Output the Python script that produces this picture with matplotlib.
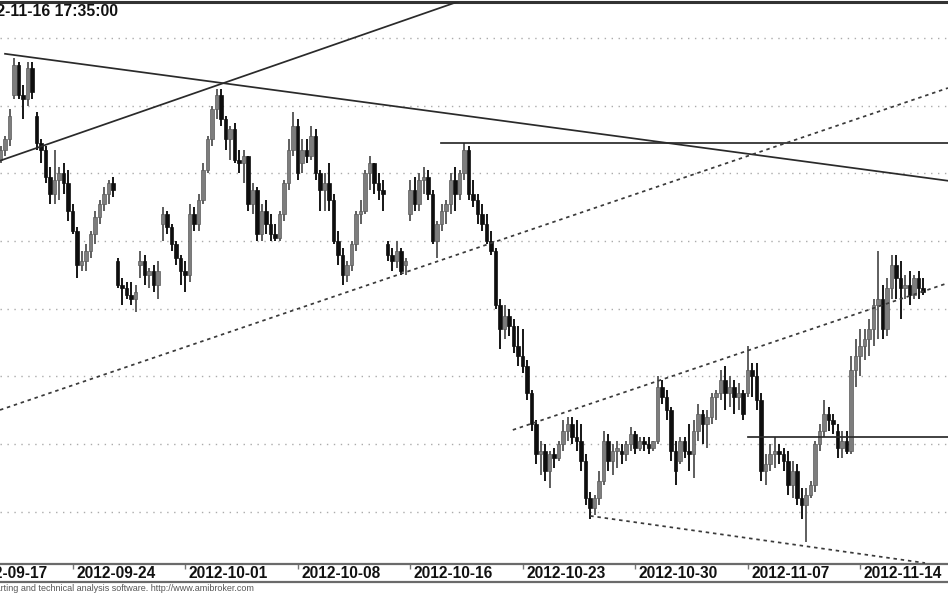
import matplotlib
matplotlib.use("Agg")
import matplotlib.pyplot as plt
from matplotlib.lines import Line2D
import numpy as np

plt.rcParams['font.family'] = ['Liberation Sans', 'DejaVu Sans']

# ---- OHLC data (bar index 0..205) ----
opens = [2444, 2447, 2450, 2463, 2472, 2463, 2462, 2471, 2457, 2449,
         2447, 2439, 2434, 2438, 2440, 2437, 2429, 2423, 2413, 2414,
         2417, 2422, 2427, 2431, 2434, 2437, 2414, 2407, 2406, 2404,
         2403, 2413, 2414, 2410, 2411, 2407, 2425, 2428, 2424, 2419,
         2415, 2411, 2410, 2428, 2425, 2432, 2441, 2450, 2459, 2463,
         2456, 2450, 2453, 2444, 2443, 2445, 2431, 2435, 2422, 2429,
         2425, 2422, 2421, 2428, 2437, 2447, 2454, 2443, 2447, 2445,
         2451, 2440, 2435, 2437, 2432, 2420, 2416, 2410, 2413, 2419,
         2428, 2429, 2440, 2443, 2437, 2435, 2419, 2416, 2414, 2417,
         2413, 2428, 2435, 2431, 2438, 2439, 2434, 2420, 2425, 2429,
         2431, 2438, 2434, 2440, 2447, 2434, 2432, 2428, 2425, 2420,
         2417, 2401, 2394, 2398, 2395, 2389, 2386, 2383, 2375, 2366,
         2357, 2358, 2352, 2357, 2356, 2360, 2364, 2366, 2362, 2361,
         2355, 2344, 2341, 2344, 2349, 2361, 2355, 2358, 2358, 2357,
         2360, 2363, 2359, 2361, 2360, 2359, 2361, 2377, 2374, 2370,
         2358, 2355, 2361, 2358, 2357, 2364, 2369, 2366, 2368, 2374,
         2375, 2379, 2375, 2377, 2374, 2375, 2375, 2382, 2380, 2373,
         2352, 2354, 2357, 2358, 2357, 2355, 2348, 2352, 2344, 2342,
         2345, 2348, 2360, 2364, 2369, 2367, 2364, 2359, 2361, 2358,
         2382, 2386, 2389, 2391, 2394, 2401, 2403, 2394, 2406, 2413,
         2409, 2406, 2407, 2404, 2409, 2406]
highs = [2448, 2451, 2459, 2474, 2473, 2466, 2473, 2473, 2458, 2450,
         2448, 2442, 2447, 2442, 2443, 2441, 2431, 2424, 2417, 2419,
         2423, 2429, 2432, 2436, 2438, 2439, 2415, 2409, 2408, 2408,
         2407, 2417, 2416, 2412, 2413, 2414, 2430, 2429, 2425, 2420,
         2416, 2414, 2431, 2430, 2434, 2443, 2451, 2460, 2465, 2465,
         2457, 2454, 2455, 2447, 2447, 2445, 2437, 2436, 2431, 2432,
         2428, 2425, 2429, 2438, 2450, 2458, 2456, 2450, 2450, 2454,
         2453, 2441, 2440, 2443, 2434, 2423, 2418, 2414, 2420, 2429,
         2432, 2441, 2445, 2443, 2440, 2438, 2420, 2418, 2420, 2418,
         2415, 2438, 2439, 2440, 2442, 2441, 2435, 2426, 2431, 2432,
         2440, 2442, 2441, 2449, 2448, 2438, 2434, 2431, 2428, 2423,
         2418, 2403, 2401, 2400, 2397, 2395, 2394, 2385, 2376, 2367,
         2361, 2360, 2358, 2359, 2361, 2367, 2368, 2368, 2367, 2366,
         2357, 2346, 2345, 2352, 2364, 2363, 2360, 2361, 2360, 2361,
         2365, 2364, 2362, 2362, 2362, 2361, 2380, 2379, 2376, 2371,
         2361, 2362, 2362, 2366, 2367, 2372, 2370, 2370, 2375, 2376,
         2382, 2383, 2380, 2379, 2378, 2376, 2389, 2384, 2384, 2375,
         2357, 2360, 2362, 2360, 2359, 2358, 2355, 2354, 2347, 2347,
         2349, 2361, 2366, 2373, 2371, 2369, 2366, 2364, 2364, 2386,
         2391, 2394, 2394, 2397, 2403, 2417, 2407, 2409, 2416, 2416,
         2414, 2410, 2411, 2410, 2411, 2409]
lows = [2443, 2445, 2448, 2462, 2462, 2456, 2460, 2462, 2447, 2443,
        2437, 2431, 2431, 2432, 2434, 2426, 2422, 2409, 2411, 2411,
        2415, 2419, 2425, 2429, 2431, 2433, 2406, 2401, 2403, 2401,
        2399, 2409, 2407, 2406, 2405, 2403, 2420, 2422, 2417, 2413,
        2407, 2405, 2408, 2423, 2423, 2431, 2440, 2448, 2456, 2454,
        2447, 2444, 2443, 2440, 2437, 2429, 2428, 2420, 2420, 2422,
        2420, 2420, 2420, 2426, 2435, 2445, 2438, 2440, 2443, 2444,
        2438, 2429, 2429, 2429, 2419, 2413, 2407, 2408, 2411, 2417,
        2425, 2428, 2435, 2434, 2432, 2429, 2414, 2411, 2412, 2410,
        2410, 2426, 2429, 2429, 2434, 2432, 2419, 2415, 2423, 2425,
        2428, 2429, 2432, 2438, 2432, 2430, 2425, 2423, 2419, 2416,
        2400, 2388, 2391, 2392, 2387, 2383, 2381, 2373, 2364, 2354,
        2351, 2349, 2347, 2353, 2355, 2358, 2361, 2360, 2358, 2352,
        2342, 2338, 2339, 2342, 2348, 2352, 2351, 2353, 2354, 2355,
        2358, 2357, 2358, 2358, 2357, 2358, 2360, 2372, 2367, 2355,
        2348, 2354, 2356, 2352, 2350, 2361, 2360, 2359, 2366, 2367,
        2373, 2370, 2371, 2369, 2370, 2367, 2374, 2374, 2370, 2349,
        2348, 2352, 2353, 2354, 2352, 2345, 2344, 2342, 2338, 2331,
        2344, 2346, 2358, 2362, 2364, 2363, 2356, 2356, 2357, 2357,
        2377, 2380, 2385, 2386, 2389, 2391, 2391, 2392, 2403, 2403,
        2397, 2403, 2401, 2403, 2403, 2404]
closes = [2447, 2450, 2457, 2472, 2463, 2462, 2471, 2464, 2449, 2447,
          2439, 2434, 2438, 2440, 2437, 2429, 2423, 2413, 2414, 2417,
          2422, 2427, 2431, 2434, 2437, 2435, 2407, 2406, 2404, 2403,
          2405, 2414, 2410, 2411, 2407, 2411, 2428, 2424, 2419, 2415,
          2411, 2410, 2428, 2425, 2432, 2441, 2450, 2459, 2463, 2456,
          2450, 2453, 2444, 2443, 2445, 2431, 2435, 2422, 2429, 2425,
          2422, 2421, 2428, 2437, 2447, 2454, 2440, 2447, 2445, 2451,
          2440, 2435, 2437, 2432, 2420, 2416, 2410, 2413, 2419, 2428,
          2429, 2440, 2443, 2437, 2435, 2434, 2416, 2414, 2417, 2411,
          2414, 2435, 2431, 2438, 2439, 2434, 2420, 2425, 2429, 2431,
          2438, 2434, 2440, 2447, 2434, 2432, 2428, 2425, 2420, 2417,
          2401, 2394, 2398, 2395, 2389, 2386, 2383, 2375, 2366, 2357,
          2358, 2352, 2357, 2356, 2360, 2364, 2366, 2362, 2361, 2355,
          2344, 2341, 2344, 2349, 2361, 2355, 2358, 2359, 2357, 2360,
          2363, 2359, 2361, 2360, 2359, 2361, 2377, 2374, 2370, 2358,
          2352, 2361, 2358, 2357, 2364, 2369, 2366, 2368, 2374, 2375,
          2379, 2375, 2377, 2374, 2375, 2369, 2382, 2380, 2373, 2352,
          2354, 2357, 2358, 2357, 2355, 2348, 2352, 2344, 2342, 2345,
          2348, 2360, 2364, 2369, 2367, 2366, 2359, 2361, 2358, 2382,
          2386, 2389, 2391, 2394, 2401, 2403, 2394, 2406, 2413, 2409,
          2406, 2407, 2404, 2409, 2406, 2405]

# date labels at bar indices
tick_bars = [-8, 16, 41, 66, 91, 116, 141, 166, 191]
tick_labels = ['2012-09-17', '2012-09-24', '2012-10-01', '2012-10-08', '2012-10-16',
               '2012-10-23', '2012-10-30', '2012-11-07', '2012-11-14']

# horizontal grid price levels
grid_levels = [2340, 2360, 2380, 2400, 2420, 2440, 2460, 2480]

# trend lines: (bar index pair, price pair)
solid_lines = [
    ([-0.2, 102.7], [2443.7, 2491.2]),
    ([0.96, 210.5], [2475.3, 2437.8]),
    ([97.8, 210.5], [2449.0, 2449.0]),
    ([166.1, 210.5], [2362.2, 2362.2]),
]
dotted_lines = [
    ([-0.16, 210.5], [2370.1, 2465.2]),
    ([113.8, 210.5], [2364.2, 2407.6]),
    ([131.0, 205.4], [2338.8, 2324.9]),
]

title_text = '2012-11-16 17:35:00'
footer_text = 'AmiBroker - charting and technical analysis software. http://www.amibroker.com'

# ---- figure ----
W, H = 948, 593
fig = plt.figure(figsize=(W / 100, H / 100), dpi=100)
fig.patch.set_facecolor('white')
ax_bottom_px, ax_top_px = 564, 2
ax = fig.add_axes([0, (H - ax_bottom_px) / H, 1, (ax_bottom_px - ax_top_px) / H])
ax.set_facecolor('white')

o = np.array(opens, float); h = np.array(highs, float)
l = np.array(lows, float); c = np.array(closes, float)
idx = np.arange(len(o))
up = c >= o

# grid
for g in grid_levels:
    ax.axhline(g, color='#ababab', lw=1.0, linestyle=(0, (1, 4)), zorder=0)

# wicks
lo_all = np.minimum(l, np.minimum(o, c))
hi_all = np.maximum(h, np.maximum(o, c))
ax.vlines(idx[up], lo_all[up], hi_all[up], colors='#5e5e5e', lw=1.4, zorder=2)
ax.vlines(idx[~up], lo_all[~up], hi_all[~up], colors='#151515', lw=1.4, zorder=2)
# bodies
body_lo = np.minimum(o, c)
body_h = np.maximum(np.abs(c - o), 0.6)
ax.bar(idx[up], body_h[up], bottom=body_lo[up], width=0.78, color='#7d7d7d',
       edgecolor='#5a5a5a', linewidth=0.5, zorder=3)
ax.bar(idx[~up], body_h[~up], bottom=body_lo[~up], width=0.78, color='#0e0e0e',
       edgecolor='#0e0e0e', linewidth=0.5, zorder=3)

# trend lines
for xs, ys in solid_lines:
    ax.plot(xs, ys, color='#2a2a2a', lw=1.25, zorder=4)
for xs, ys in dotted_lines:
    ax.plot(xs, ys, color='#3a3a3a', lw=1.25, linestyle=(0, (2, 2.2)), zorder=4)

ax.set_yticks([])
ax.set_xticks(tick_bars)
ax.tick_params(axis='x', direction='out', length=3.5, width=1, color='#777777',
               labelbottom=False)

# limits (pixel 0 -> bar -0.156, pixel 948 -> bar 210.51); set after ticks
ax.set_xlim(-0.156, 210.51)
ax.set_ylim(2324.6, 2490.6)

for s in ['left', 'right']:
    ax.spines[s].set_visible(False)
ax.spines['top'].set_color('#333333')
ax.spines['top'].set_linewidth(2.2)
ax.spines['bottom'].set_color('#6a6a6a')
ax.spines['bottom'].set_linewidth(1.6)

# date labels
for tb, lab in zip(tick_bars, tick_labels):
    ax.text(tb + 0.75, -0.0165, lab, transform=ax.get_xaxis_transform(),
            ha='left', va='center', fontsize=11.2, fontweight='bold',
            color='#111111', clip_on=False)

# lower strip line
fig.add_artist(Line2D([0, 1], [(H - 582) / H, (H - 582) / H], transform=fig.transFigure,
                      color='#6a6a6a', lw=1.6))

# title (clipped at left edge)
fig.text(118 / W, 1 - 11 / H, title_text, ha='right', va='center', fontsize=11.3,
         fontweight='bold', color='#111111')
# footer
fig.text(254 / W, 1 - 588.5 / H, footer_text, ha='right', va='center', fontsize=6.45,
         color='#555555')

fig.savefig('out.png', dpi=100, facecolor='white')
